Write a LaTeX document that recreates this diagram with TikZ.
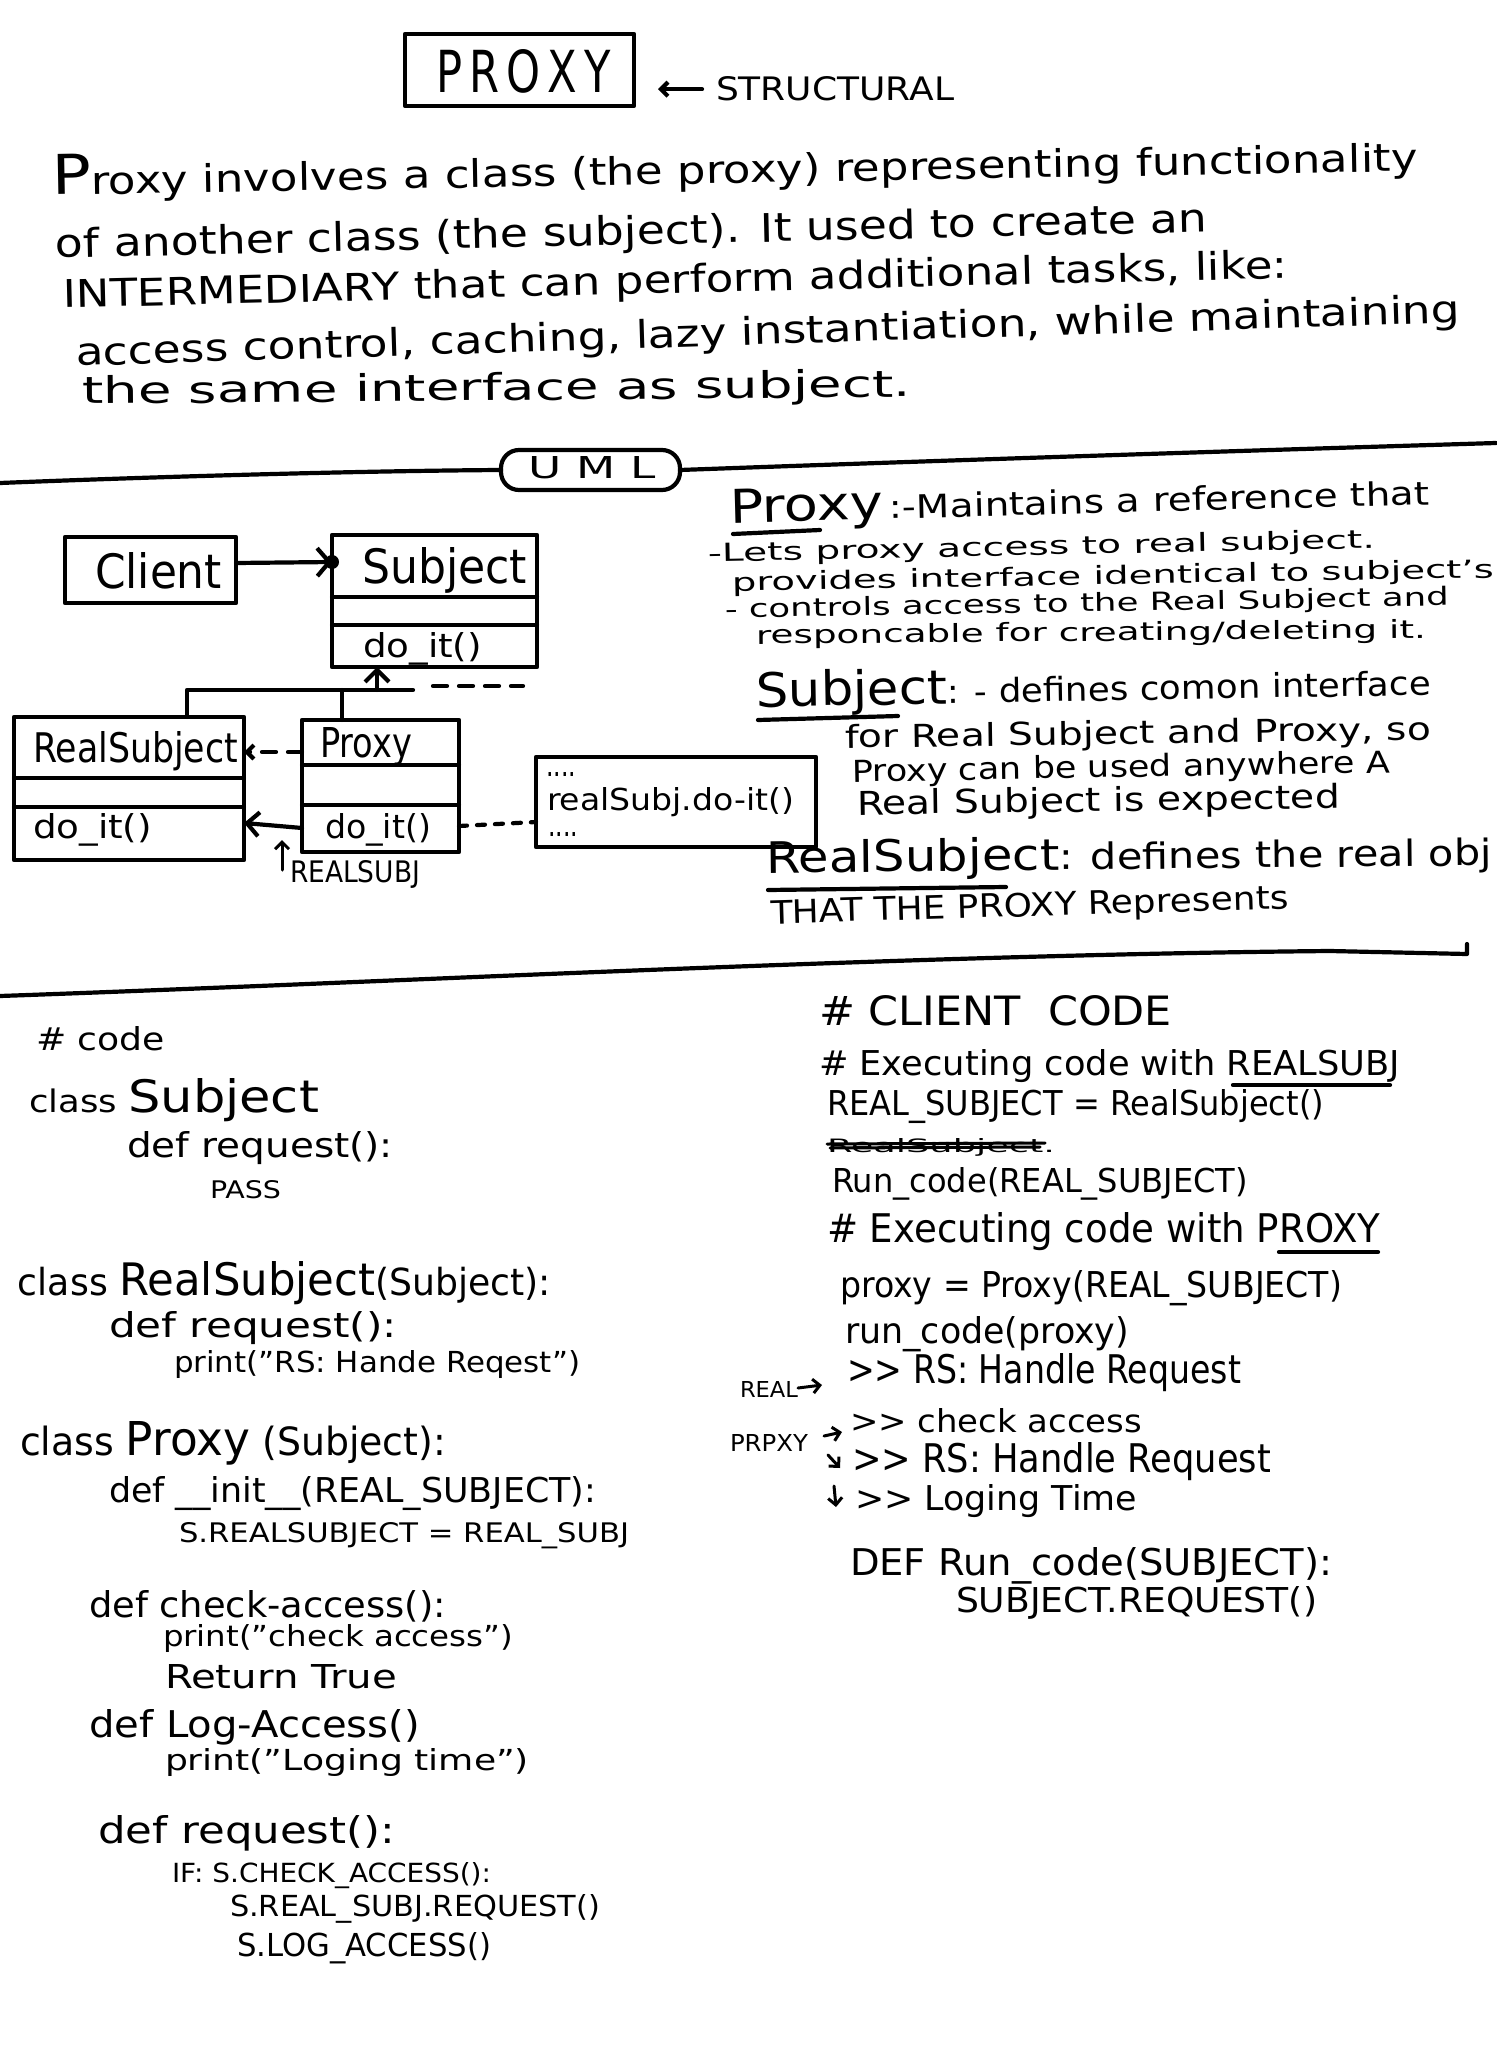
\documentclass[tikz,border=0pt]{standalone}
\usepackage{fontspec}
\setmainfont{DejaVu Sans}
\usepackage{graphicx}
\usetikzlibrary{arrows.meta,fit}
\newlength\px
\setlength\px{0.5pt}
% text scaled to a width and a height given in sheet pixels
\newcommand\WH[3]{\resizebox{#1\px}{#2\px}{#3}}
\begin{document}
\begin{tikzpicture}[x=0.5pt,y=-0.5pt,
  pen/.style={line width=2.1pt,line cap=round,line join=round},
  thinpen/.style={line width=1.5pt,line cap=round,line join=round},
  box/.style={pen,draw,inner sep=0pt,outer sep=0pt},
  txt/.style={anchor=base west,inner sep=0pt,outer sep=0pt},
  barb/.style={-{Straight Barb[length=6pt,width=12pt]}},
  smallbarb/.style={-{Straight Barb[length=3.5pt,width=7pt]}},
  dashline/.style={dash pattern=on 7pt off 6pt},
  dotline/.style={dash pattern=on 4pt off 5pt},
]
\fill[white] (0,0) rectangle (1496,2048);
\useasboundingbox (0,0) rectangle (1496,2048);

% ---------- title ----------
\node[box,fit={(405,34) (634,106)}] (title) {};
\node[txt] (titletext) at (436,93) {\WH{175}{43}{P\,R\,O\,X\,Y}};
\node[txt] (struct) at (716,101) {\WH{238}{24}{STRUCTURAL}};
\draw[pen,smallbarb,shorten <=14\px,shorten >=24\px] (struct.west) -- (struct.west -| title.east);

% ---------- introduction ----------
\node[txt,rotate=1.0] (p1) at (52,195) {\WH{1366}{40}{{\Large P}roxy involves a class (the proxy) representing functionality}};
\node[txt,rotate=1.3] (p2) at (56,258) {\WH{1152}{30}{of another class (the subject). It used to create an}};
\node[txt,rotate=1.4] (p3) at (63,308) {\WH{1225}{29}{INTERMEDIARY that can perform additional tasks, like:}};
\node[txt,rotate=1.8] (p4) at (76,366) {\WH{1385}{29}{access control, caching, lazy instantiation, while maintaining}};
\node[txt,rotate=0.5] (p5) at (82,404) {\WH{829}{28}{the same interface as subject.}};

% ---------- UML divider ----------
\node[box,rounded corners=9pt,fit={(501,450) (680,490)}] (uml) {};
\node[txt] (umltext) at (528,478) {\WH{128}{22}{U\,\,M\,\,L}};
\draw[pen] (0,483) .. controls (150,477) and (350,471) .. (uml.west);
\draw[pen] (uml.east) .. controls (900,462) and (1200,452) .. (1496,443);

% ---------- class diagram ----------
\node[box,fit={(65,537) (236,603)}] (client) {};
\node[txt] (clienttext) at (95,588) {\WH{127}{36}{Client}};

\node[box,fit={(332,535) (537,667)}] (subj) {};
\draw[pen] (subj.west |- 0,597) -- (subj.east |- 0,597);
\draw[pen] (subj.west |- 0,625) -- (subj.east |- 0,625);
\node[txt] (subjtext) at (362,583) {\WH{165}{36}{Subject}};
\node[txt] (subjop) at (363,657) {\WH{119}{25}{do\_it()}};

\node[box,fit={(14,717) (244,860)}] (rs) {};
\draw[pen] (rs.west |- 0,778) -- (rs.east |- 0,778);
\draw[pen] (rs.west |- 0,807) -- (rs.east |- 0,807);
\node[txt] (rstext) at (33,762) {\WH{205}{31}{RealSubject}};
\node[txt] (rsop) at (33,838) {\WH{119}{25}{do\_it()}};

\node[box,fit={(302,720) (459,852)}] (px) {};
\draw[pen] (px.west |- 0,765) -- (px.east |- 0,765);
\draw[pen] (px.west |- 0,805) -- (px.east |- 0,805);
\node[txt] (pxtext) at (320,757) {\WH{92}{30}{Proxy}};
\node[txt] (pxop) at (325,838) {\WH{106}{25}{do\_it()}};

\node[box,fit={(536,757) (816,847)}] (note) {};
\node[txt] (notea) at (546,776) {\WH{30}{4}{....}};
\node[txt] (noteb) at (547,810) {\WH{247}{23}{realSubj.do-it()}};
\node[txt] (notec) at (548,836) {\WH{30}{4}{....}};

% client uses subject
\draw[pen,-{Straight Barb[length=6pt,width=14pt]}] (client.east |- 0,563) -- (subj.west |- 0,562);
\fill (subj.west |- 0,562) circle[radius=3.5pt];

% generalisation tree
\coordinate (gen) at (377,690);
\draw[pen] (rs.north -| 187,0) |- (413,690);
\draw[pen] (px.north -| 342,0) -- (342,690);
\draw[pen,barb] (gen) -- (gen |- subj.south);
\draw[pen,dashline] (433,686) -- (523,686);

% proxy to real subject
\draw[pen,dashline,smallbarb] (px.west |- 0,752) -- (rs.east |- 0,752);
\draw[pen,barb] (px.west |- 0,828) -- (rs.east |- 0,823);
\draw[pen,dotline] (px.east |- 0,826) -- (note.west |- 0,822);

\node[txt] (rslab) at (290,882) {\WH{130}{22}{REALSUBJ}};
\coordinate (rsfoot) at (282,870);
\coordinate (rshead) at (282,840);
\draw[thinpen,smallbarb] (rsfoot) -- (rshead);

% ---------- participant notes ----------
\node[txt,rotate=1.5] (r1) at (730,523) {\WH{700}{34}{{\Large Proxy}\,:-Maintains a reference that}};
\draw[pen] (733,534) -- (820,530);
\node[txt,rotate=1.2] (r2) at (708,562) {\WH{667}{19}{-Lets proxy access to real subject.}};
\node[txt,rotate=1.0] (r3) at (732,591) {\WH{762}{19}{provides interface identical to subject's}};
\node[txt,rotate=1.0] (r4) at (725,618) {\WH{724}{19}{- controls access to the Real Subject and}};
\node[txt,rotate=0.5] (r5) at (756,644) {\WH{670}{19}{responcable for creating/deleting it.}};
\node[txt,rotate=1.0] (r6) at (756,707) {\WH{675}{36}{{\Large Subject}: - defines comon interface}};
\draw[pen] (758,720) -- (898,716);
\node[txt,rotate=0.8] (r7) at (845,748) {\WH{586}{24}{for Real Subject and Proxy, so}};
\node[txt,rotate=1.0] (r8) at (852,782) {\WH{538}{23}{Proxy can be used anywhere A}};
\node[txt,rotate=0.8] (r9) at (857,815) {\WH{483}{25}{Real Subject is expected}};
\node[txt,rotate=0.6] (r10) at (766,873) {\WH{726}{33}{{\large RealSubject}: defines the real obj}};
\draw[pen] (768,890) -- (1006,887);
\node[txt,rotate=1.7] (r11) at (771,924) {\WH{518}{24}{THAT THE PROXY Represents}};

% ---------- code divider ----------
\draw[pen] (0,996) .. controls (400,982) and (900,955) .. (1330,951) -- (1467,954) -- (1467,944);

% ---------- class code ----------
\node[txt] (l1) at (36,1050) {\WH{129}{24}{\# code}};
\node[txt] (l2) at (29,1112) {\WH{290}{34}{class {\Large Subject}}};
\node[txt] (l3) at (127,1157) {\WH{266}{26}{def request():}};
\node[txt] (l4) at (210,1198) {\WH{71}{18}{PASS}};
\node[txt] (l5) at (18,1295) {\WH{533}{34}{class {\large RealSubject}(Subject):}};
\node[txt] (l6) at (109,1337) {\WH{288}{26}{def request():}};
\node[txt] (l7) at (174,1372) {\WH{406}{22}{print("RS: Hande Reqest")}};
\node[txt] (l8) at (20,1455) {\WH{426}{34}{class {\large Proxy} (Subject):}};
\node[txt] (l9) at (109,1502) {\WH{487}{26}{def \_\_init\_\_(REAL\_SUBJECT):}};
\node[txt] (l10) at (179,1542) {\WH{450}{20}{S.REALSUBJECT = REAL\_SUBJ}};
\node[txt] (l11) at (89,1617) {\WH{357}{27}{def check-access():}};
\node[txt] (l12) at (163,1646) {\WH{350}{22}{print("check access")}};
\node[txt] (l13) at (165,1688) {\WH{232}{24}{Return True}};
\node[txt] (l14) at (89,1737) {\WH{331}{28}{def Log-Access()}};
\node[txt] (l15) at (165,1770) {\WH{364}{22}{print("Loging time")}};
\node[txt] (l16) at (98,1843) {\WH{297}{28}{def request():}};
\node[txt] (l17) at (172,1882) {\WH{319}{20}{IF: S.CHECK\_ACCESS():}};
\node[txt] (l18) at (230,1916) {\WH{370}{22}{S.REAL\_SUBJ.REQUEST()}};
\node[txt] (l19) at (237,1956) {\WH{254}{24}{S.LOG\_ACCESS()}};

% ---------- client code ----------
\node[txt] (c1) at (819,1025) {\WH{353}{30}{\# CLIENT\ \ CODE}};
\node[txt] (c2) at (819,1075) {\WH{581}{26}{\# Executing code with REALSUBJ}};
\draw[pen] (1233,1085) -- (1390,1085);
\node[txt] (c3) at (827,1115) {\WH{497}{26}{REAL\_SUBJECT = RealSubject()}};
\node[txt] (c4) at (827,1152) {\WH{228}{14}{RealSubject.}};
\draw[thinpen] (827,1144) -- (1045,1143);
\draw[thinpen] (830,1148) -- (1040,1147);
\node[txt] (c5) at (832,1192) {\WH{416}{25}{Run\_code(REAL\_SUBJECT)}};
\node[txt] (c6) at (827,1242) {\WH{553}{30}{\# Executing code with PROXY}};
\draw[pen] (1279,1252) -- (1378,1252);
\node[txt] (c7) at (840,1297) {\WH{502}{27}{proxy = Proxy(REAL\_SUBJECT)}};
\node[txt] (c8) at (845,1343) {\WH{284}{27}{run\_code(proxy)}};
\node[txt] (c9) at (847,1383) {\WH{394}{30}{>{}> RS: Handle Request}};
\node[txt] (c10) at (850,1432) {\WH{292}{24}{>{}> check access}};
\node[txt] (c11) at (852,1472) {\WH{419}{30}{>{}> RS: Handle Request}};
\node[txt] (c12) at (855,1510) {\WH{282}{26}{>{}> Loging Time}};
\node[txt] (c13) at (850,1575) {\WH{482}{28}{DEF Run\_code(SUBJECT):}};
\node[txt] (c14) at (956,1612) {\WH{361}{26}{SUBJECT.REQUEST()}};

% output annotations
\node[txt] (reallab) at (740,1397) {\WH{58}{16}{REAL}};
\coordinate (realtip) at (822,1385);
\draw[thinpen,smallbarb] (reallab.east |- 0,1388) -- (realtip);
\node[txt] (proxylab) at (730,1451) {\WH{78}{17}{PRPXY}};
\coordinate (pxa1) at (842,1432);
\coordinate (pxa2) at (840,1468);
\coordinate (pxa3) at (836,1507);
\draw[thinpen,smallbarb] (824,1436) -- (pxa1);
\draw[thinpen,smallbarb] (828,1455) -- (pxa2);
\draw[thinpen,smallbarb] (834,1486) -- (pxa3);
\end{tikzpicture}
\end{document}
